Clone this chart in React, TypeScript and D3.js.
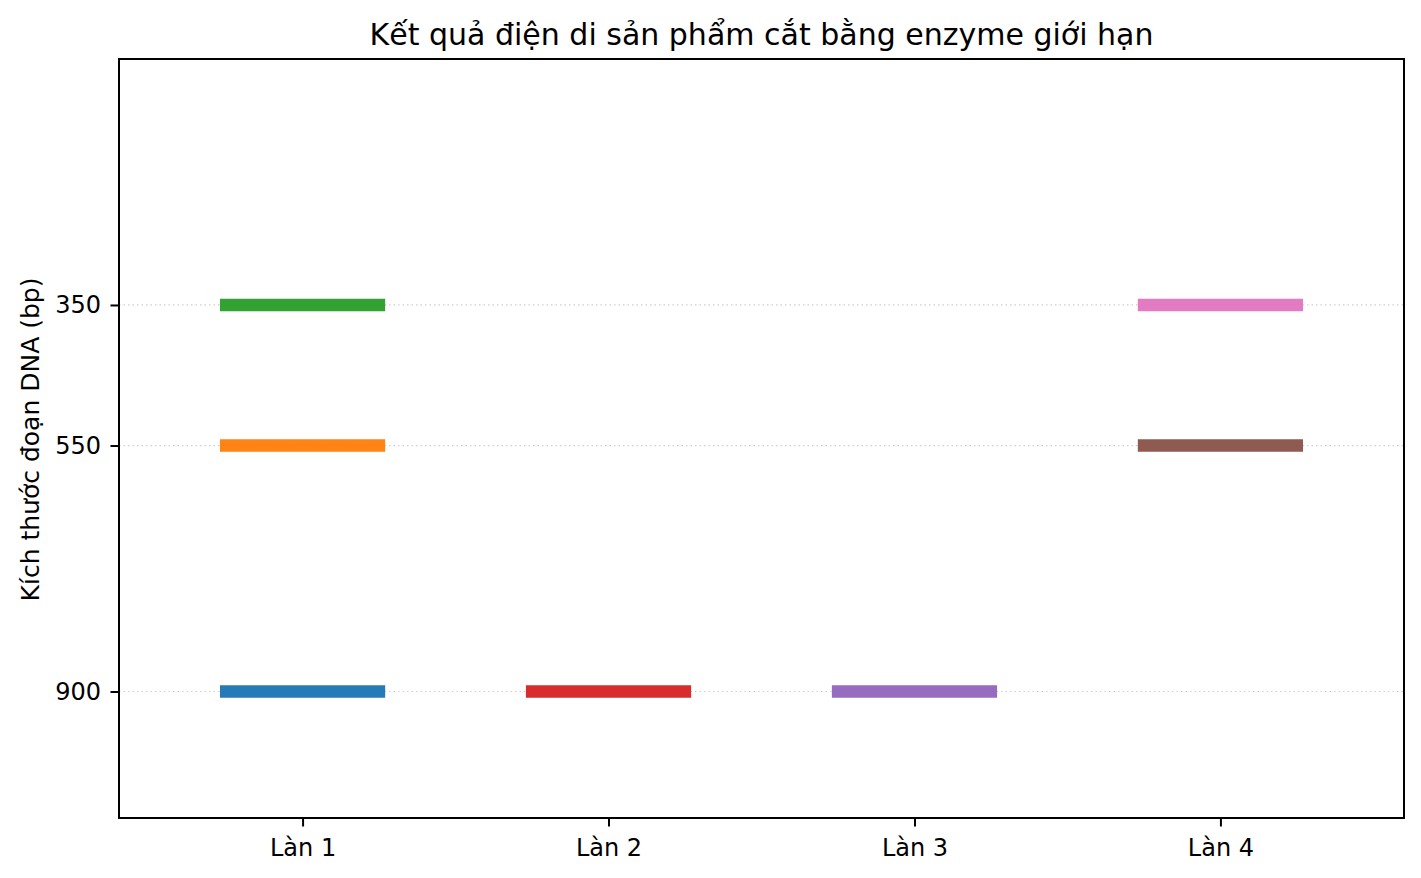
import { useEffect, useRef } from "react";
import * as d3 from "d3";

// Lanes and band data (size in bp), in plotting order
const lanes = ["Làn 1", "Làn 2", "Làn 3", "Làn 4"];
const bandLane = [1, 1, 1, 2, 3, 4, 4];
const bandSize = [900, 550, 350, 900, 900, 550, 350];
const bandColors = ["#1f77b4", "#ff7f0e", "#2ca02c", "#d62728", "#9467bd", "#8c564b", "#e377c2"];
const yTicks = [350, 550, 900];

const W = 1421;
const H = 878;

export default function App() {
  const svgRef = useRef<SVGSVGElement>(null);

  useEffect(() => {
    if (!svgRef.current) return;
    const svg = d3.select(svgRef.current);
    svg.selectAll("*").remove();

    const margin = { top: 59, right: 17, bottom: 60, left: 119 };
    const width = W - margin.left - margin.right;
    const height = H - margin.top - margin.bottom;
    const font = "DejaVu Sans, sans-serif";
    const tickFont = 24;

    const x = d3.scaleLinear().domain([0.4, 4.6]).range([0, width]);
    // inverted: small fragments at the top
    const y = d3.scaleLinear().domain([0, 1080]).range([0, height]);

    const g = svg.append("g").attr("transform", `translate(${margin.left},${margin.top})`);

    // dotted grid at y ticks
    g.selectAll("line.grid")
      .data(yTicks)
      .join("line")
      .attr("class", "grid")
      .attr("x1", 0)
      .attr("x2", width)
      .attr("y1", (d) => y(d))
      .attr("y2", (d) => y(d))
      .attr("stroke", "#d0d0d0")
      .attr("stroke-width", 1.2)
      .attr("stroke-dasharray", "1.5,3");

    // bands
    g.selectAll("line.band")
      .data(bandSize.map((s, i) => ({ s, lane: bandLane[i], c: bandColors[i] })))
      .join("line")
      .attr("class", "band")
      .attr("x1", (d) => x(d.lane - 0.27))
      .attr("x2", (d) => x(d.lane + 0.27))
      .attr("y1", (d) => y(d.s))
      .attr("y2", (d) => y(d.s))
      .attr("stroke", (d) => d.c)
      .attr("stroke-width", 12.5)
      .attr("opacity", 0.97);

    // frame
    g.append("rect")
      .attr("width", width)
      .attr("height", height)
      .attr("fill", "none")
      .attr("stroke", "#000")
      .attr("stroke-width", 2);

    // x axis
    const xAxis = g
      .append("g")
      .attr("transform", `translate(0,${height})`)
      .call(
        d3
          .axisBottom(x)
          .tickValues([1, 2, 3, 4])
          .tickFormat((d) => lanes[(d as number) - 1])
          .tickSize(8.5)
          .tickPadding(12.5)
      );
    xAxis.select(".domain").remove();
    xAxis.selectAll("line").attr("stroke-width", 2);
    xAxis.selectAll("text").attr("font-family", font).attr("font-size", tickFont).attr("fill", "#000");

    // y axis
    const yAxis = g
      .append("g")
      .call(d3.axisLeft(y).tickValues(yTicks).tickSize(8.5).tickPadding(9.5));
    yAxis.select(".domain").remove();
    yAxis.selectAll("line").attr("stroke-width", 2);
    yAxis.selectAll("text").attr("font-family", font).attr("font-size", tickFont).attr("fill", "#000");

    // y label
    svg
      .append("text")
      .attr("transform", `translate(39,${margin.top + height / 2 + 1}) rotate(-90)`)
      .attr("text-anchor", "middle")
      .attr("font-family", font)
      .attr("font-size", 25)
      .text("Kích thước đoạn DNA (bp)");

    // title
    svg
      .append("text")
      .attr("x", margin.left + width / 2)
      .attr("y", 45)
      .attr("text-anchor", "middle")
      .attr("font-family", font)
      .attr("font-size", 30)
      .text("Kết quả điện di sản phẩm cắt bằng enzyme giới hạn");
  }, []);

  return (
    <div>
      <svg
        ref={svgRef}
        width={W}
        height={H}
        style={{ position: "absolute", left: 0, top: 0, display: "block", background: "#fff" }}
      />
    </div>
  );
}
